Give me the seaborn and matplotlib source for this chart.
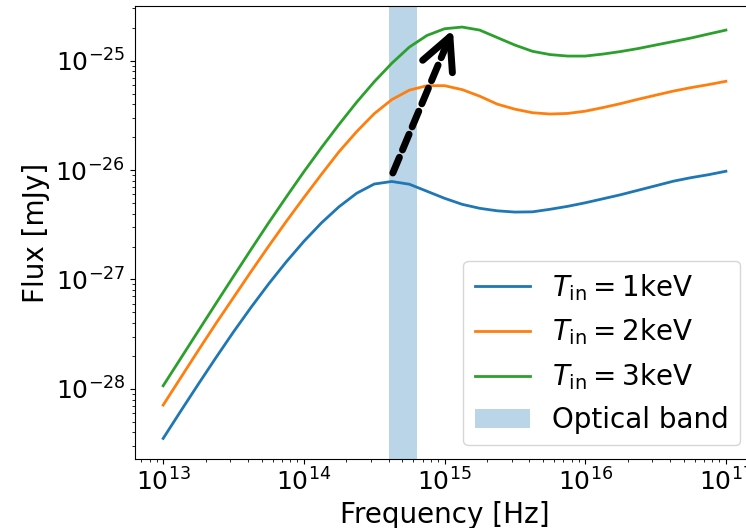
import matplotlib
matplotlib.use("Agg")
import matplotlib.pyplot as plt
import seaborn as sns

# frequency grid [Hz] (1/8 decade steps) and fluxes [mJy]
freq = [1.000e13, 1.334e13, 1.778e13, 2.371e13, 3.162e13, 4.217e13, 5.623e13, 7.499e13,
        1.000e14, 1.334e14, 1.778e14, 2.371e14, 3.162e14, 4.217e14, 5.623e14, 7.499e14,
        1.000e15, 1.334e15, 1.778e15, 2.371e15, 3.162e15, 4.217e15, 5.623e15, 7.499e15,
        1.000e16, 1.334e16, 1.778e16, 2.371e16, 3.162e16, 4.217e16, 5.623e16, 7.499e16,
        1.000e17]

flux_1kev = [3.53e-29, 6.28e-29, 1.106e-28, 1.93e-28, 3.32e-28, 5.57e-28, 9.12e-28, 1.449e-27,
             2.228e-27, 3.29e-27, 4.62e-27, 6.13e-27, 7.45e-27, 7.86e-27, 7.42e-27, 6.40e-27,
             5.52e-27, 4.86e-27, 4.47e-27, 4.24e-27, 4.13e-27, 4.15e-27, 4.38e-27, 4.66e-27,
             5.02e-27, 5.46e-27, 5.94e-27, 6.53e-27, 7.18e-27, 7.90e-27, 8.51e-27, 9.06e-27,
             9.75e-27]
flux_2kev = [7.12e-29, 1.268e-28, 2.25e-28, 3.96e-28, 6.84e-28, 1.183e-27, 2.017e-27, 3.39e-27,
             5.60e-27, 9.14e-27, 1.470e-26, 2.24e-26, 3.27e-26, 4.40e-26, 5.37e-26, 5.90e-26,
             5.90e-26, 5.43e-26, 4.73e-26, 4.00e-26, 3.60e-26, 3.34e-26, 3.25e-26, 3.29e-26,
             3.45e-26, 3.72e-26, 4.04e-26, 4.43e-26, 4.83e-26, 5.26e-26, 5.66e-26, 6.03e-26,
             6.47e-26]
flux_3kev = [1.069e-28, 1.905e-28, 3.39e-28, 6.03e-28, 1.069e-27, 1.885e-27, 3.30e-27, 5.67e-27,
             9.64e-27, 1.603e-26, 2.61e-26, 4.16e-26, 6.40e-26, 9.45e-26, 1.329e-25, 1.697e-25,
             1.954e-25, 2.025e-25, 1.90e-25, 1.623e-25, 1.387e-25, 1.216e-25, 1.135e-25, 1.100e-25,
             1.100e-25, 1.147e-25, 1.209e-25, 1.288e-25, 1.387e-25, 1.492e-25, 1.606e-25, 1.748e-25,
             1.90e-25]

labels = [r'$T_{\rm in}=1$keV', r'$T_{\rm in}=2$keV', r'$T_{\rm in}=3$keV']
optical_band = (4.0e14, 6.4e14)

# arrow: from the 1 keV peak up to the 3 keV peak
arrow_tail = (4.29e14, 9.4e-27)
arrow_neck = (9.90e14, 1.22e-25)
arrow_tip = (1.147e15, 1.92e-25)

fig = plt.figure(figsize=(7.46, 5.28), dpi=100)
ax = fig.add_axes([0.181, 0.1307, 0.8298, 0.857])

for flux, lab, col in zip([flux_1kev, flux_2kev, flux_3kev], labels, ['C0', 'C1', 'C2']):
    sns.lineplot(x=freq, y=flux, ax=ax, label=lab, color=col, linewidth=2, estimator=None)

ax.axvspan(*optical_band, alpha=0.3, color='C0', label='Optical band', lw=0)

# dashed shaft + solid open head
ax.annotate('', xy=arrow_neck, xytext=arrow_tail,
            arrowprops=dict(arrowstyle='-', linestyle=(0, (2.45, 1.15)), lw=5,
                            color='k', shrinkA=0, shrinkB=0, capstyle='round'))
ax.annotate('', xy=arrow_tip, xytext=arrow_neck,
            arrowprops=dict(arrowstyle='->,head_length=0.4,head_width=0.2', lw=5,
                            color='k', shrinkA=0, shrinkB=0, mutation_scale=58))

ax.set_xscale('log')
ax.set_yscale('log')
ax.set_xlabel('Frequency [Hz]', fontsize=20)
ax.set_ylabel('Flux [mJy]', fontsize=20)
ax.tick_params(labelsize=18)
ax.legend(loc='lower right', fontsize=20)

fig.savefig('out.png', dpi=100)
